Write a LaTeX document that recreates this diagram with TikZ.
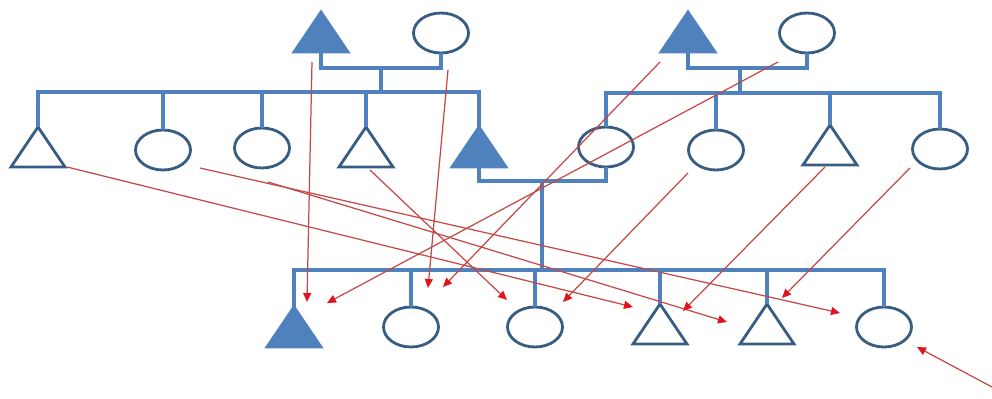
\documentclass[tikz,border=0pt]{standalone}
\usepackage{tikz}
\usetikzlibrary{shapes,arrows.meta}
\usepackage{xcolor}

\definecolor{pedBlue}{RGB}{79,129,189}
\definecolor{pedDark}{RGB}{56,93,130}
\definecolor{lineRed}{RGB}{196,72,70}
\definecolor{tipRed}{RGB}{225,20,30}

\begin{document}
\begin{tikzpicture}[
  x=0.02cm,y=-0.02cm,
  male/.style={draw=pedDark,line width=1.6pt,isosceles triangle,shape border rotate=90,
isosceles triangle stretches,minimum width=1.08cm,minimum height=0.8cm,inner sep=0pt,outer sep=0pt,anchor=south},
  maleFilled/.style={male,draw=pedBlue,fill=pedBlue},
  female/.style={draw=pedDark,line width=1.6pt,ellipse,minimum width=1.1cm,minimum height=0.8cm,inner sep=0pt,outer sep=0pt},
  descent/.style={draw=pedBlue,line width=2.3pt},
  parentToChild/.style={-{Triangle[length=1.8mm,width=1.6mm,color=tipRed]},draw=lineRed,line width=0.7pt}]

  \useasboundingbox (0,0) rectangle (992,399);

  % first generation
  \node[maleFilled] (fatherA) at (321,52) {};
  \node[female] (motherA) at (441,33) {};
  \node[maleFilled] (fatherB) at (688,52) {};
  \node[female] (motherB) at (807,33) {};

  % second generation
  \node[male] (sibA1) at (38,167) {};
  \node[female] (sibA2) at (163,150) {};
  \node[female] (sibA3) at (262,148) {};
  \node[male] (sibA4) at (366,167) {};
  \node[maleFilled] (sibA5) at (479,167) {};
  \node[female] (sibB1) at (606,147) {};
  \node[female] (sibB2) at (716,150) {};
  \node[male] (sibB3) at (830,165) {};
  \node[female] (sibB4) at (940,149) {};

  % third generation
  \node[maleFilled] (kid1) at (294,347) {};
  \node[female] (kid2) at (411,327) {};
  \node[female] (kid3) at (535,327) {};
  \node[male] (kid4) at (660,344) {};
  \node[male] (kid5) at (767,344) {};
  \node[female] (kid6) at (884,327) {};

  \coordinate (unionA) at (381,68);
  \coordinate (sibsA) at (381,92);
  \coordinate (unionB) at (740,68);
  \coordinate (sibsB) at (740,93);
  \coordinate (unionC) at (542,181);
  \coordinate (sibsC) at (542,270);
  \coordinate (offPage) at (992,387);

  % couples and lines of descent
  \draw [descent] (fatherA.south) -- ++(0,16) -| (motherA.south);
  \draw [descent] (unionA) -- (sibsA);
  \draw [descent] (sibA1.north) |- (sibA5.north |- sibsA) -- (sibA5.north);
  \foreach \s in {sibA2,sibA3,sibA4}
    \draw [descent] (\s.north) -- (\s.north |- sibsA);

  \draw [descent] (fatherB.south) -- ++(0,16) -| (motherB.south);
  \draw [descent] (unionB) -- (sibsB);
  \draw [descent] (sibB1.north) |- (sibB4.north |- sibsB) -- (sibB4.north);
  \foreach \s in {sibB2,sibB3}
    \draw [descent] (\s.north) -- (\s.north |- sibsB);

  \draw [descent] (sibA5.south) -- ++(0,14) -| (sibB1.south);
  \draw [descent] (unionC) -- (sibsC);
  \draw [descent] (kid1.north) |- (kid6.north |- sibsC) -- (kid6.north);
  \foreach \k in {kid2,kid3,kid4,kid5}
    \draw [descent] (\k.north) -- (\k.north |- sibsC);

  % parents to children
  \draw [parentToChild] ([shift={(-9,10)}]fatherA.south) -- ([shift={(13,-5)}]kid1.north);
  \draw [parentToChild] ([shift={(7,17)}]motherA.south) -- ([shift={(17,-19)}]kid2.north);
  \draw [parentToChild] ([shift={(-28,10)}]fatherB.south) -- ([shift={(32,-20)}]kid2.north);
  \draw [parentToChild] ([shift={(-29,9)}]motherB.south) -- ([shift={(33,-4)}]kid1.north);

  % siblings to children
  \draw [parentToChild] ([shift={(29,0)}]sibA1.south) -- ([shift={(-27,3)}]kid4.north);
  \draw [parentToChild] ([shift={(37,-2)}]sibA2.south) -- ([shift={(-44,6)}]kid6.north);
  \draw [parentToChild] ([shift={(6,14)}]sibA3.south) -- ([shift={(-40,18)}]kid5.north);
  \draw [parentToChild] ([shift={(4,3)}]sibA4.south) -- ([shift={(-28,-7)}]kid3.north);
  \draw [parentToChild] ([shift={(-28,3)}]sibB2.south) -- ([shift={(28,-5)}]kid3.north);
  \draw [parentToChild] ([shift={(-5,2)}]sibB3.south) -- ([shift={(23,7)}]kid4.north);
  \draw [parentToChild] ([shift={(-30,-1)}]sibB4.south) -- ([shift={(15,-6)}]kid5.north);
  \draw [parentToChild] (offPage) -- ([shift={(33,0)}]kid6.south);
\end{tikzpicture}
\end{document}
